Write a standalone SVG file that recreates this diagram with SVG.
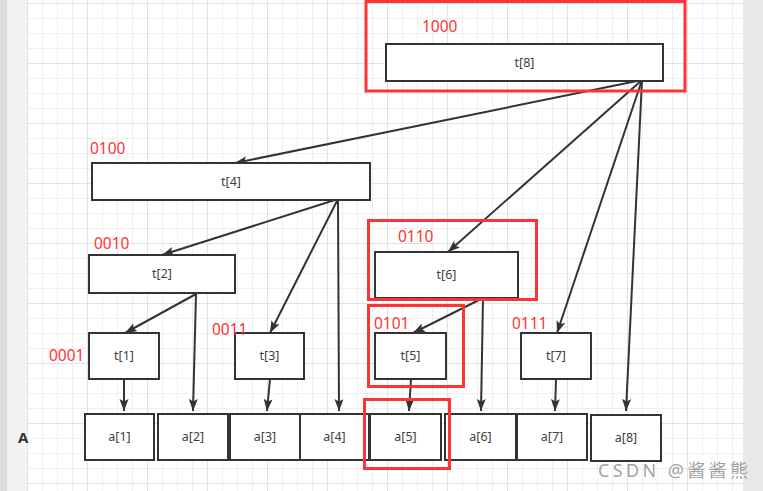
<svg xmlns="http://www.w3.org/2000/svg" width="763" height="491" viewBox="0 0 763 491">
<style>
.box{fill:#fff;stroke:#333;stroke-width:2}
.lbl{font-family:"Noto Sans","Liberation Sans",sans-serif;font-size:12.5px;fill:#404040;text-anchor:middle}
.bin{font-family:"Noto Sans","Liberation Sans",sans-serif;font-size:15.5px;fill:#ff3333}
.hl{fill:none;stroke:#f33;stroke-width:3}
.edge{stroke:#333;stroke-width:2;fill:none;marker-end:url(#ah)}
.wm{font-family:"Noto Sans","Noto Sans CJK SC",sans-serif;font-size:18px;fill:#8a8a8a;fill-opacity:0.8}
</style>
<defs>
<pattern id="minor" patternUnits="userSpaceOnUse" x="27" y="3" width="15" height="15">
<path d="M0,0.5 H15 M0.5,0 V15" stroke="#efefef" stroke-width="1" fill="none"/>
</pattern>
<pattern id="major" patternUnits="userSpaceOnUse" x="27" y="3" width="60" height="60">
<path d="M0,0.5 H60 M0.5,0 V60" stroke="#e2e2e2" stroke-width="1" fill="none"/>
</pattern>
<marker id="ah" markerUnits="userSpaceOnUse" markerWidth="13" markerHeight="10" refX="12" refY="4.5" orient="auto">
<path d="M0,0 L12,4.5 L0,9 L2.5,4.5 z" fill="#333"/>
</marker>
</defs>
<rect x="0" y="0" width="763" height="491" fill="#fff"/>
<rect x="0" y="0" width="7" height="491" fill="#dcdce0"/>
<rect x="7" y="0" width="20" height="491" fill="#f2f2f2"/>
<rect x="27" y="0" width="716" height="491" fill="url(#minor)"/>
<rect x="27" y="0" width="716" height="491" fill="url(#major)"/>
<rect x="743" y="0" width="20" height="491" fill="#e8e8e8"/>

<g id="connectors">
<line class="edge" x1="642" y1="80" x2="235" y2="163"/>
<line class="edge" x1="642" y1="80" x2="448" y2="252"/>
<line class="edge" x1="642" y1="80" x2="557" y2="333"/>
<line class="edge" x1="642" y1="80" x2="626" y2="411"/>
<line class="edge" x1="338" y1="199" x2="162" y2="255"/>
<line class="edge" x1="338" y1="199" x2="270" y2="333"/>
<line class="edge" x1="338" y1="199" x2="339" y2="411"/>
<line class="edge" x1="196" y1="294" x2="125" y2="333"/>
<line class="edge" x1="196" y1="294" x2="193" y2="411"/>
<line class="edge" x1="124" y1="379" x2="124" y2="411"/>
<line class="edge" x1="270" y1="379" x2="267" y2="411"/>
<line class="edge" x1="483" y1="298" x2="413" y2="333"/>
<line class="edge" x1="483" y1="298" x2="481" y2="411"/>
<line class="edge" x1="411" y1="379" x2="409" y2="411"/>
<line class="edge" x1="556" y1="379" x2="555" y2="411"/>
</g>

<g id="t8"><rect class="box" x="386" y="44" width="277" height="37"/><text class="lbl" x="524.5" y="67">t[8]</text></g>
<g id="t4"><rect class="box" x="92" y="163" width="278" height="37"/><text class="lbl" x="231" y="186">t[4]</text></g>
<g id="t2"><rect class="box" x="89" y="255" width="146" height="38"/><text class="lbl" x="162" y="278">t[2]</text></g>
<g id="t6"><rect class="box" x="375" y="252" width="143" height="46"/><text class="lbl" x="446.5" y="279">t[6]</text></g>
<g id="t1"><rect class="box" x="89" y="333" width="70" height="46"/><text class="lbl" x="124" y="360">t[1]</text></g>
<g id="t3"><rect class="box" x="235" y="333" width="69" height="46"/><text class="lbl" x="269.5" y="360">t[3]</text></g>
<g id="t5"><rect class="box" x="375" y="333" width="71" height="46"/><text class="lbl" x="410.5" y="360">t[5]</text></g>
<g id="t7"><rect class="box" x="521" y="333" width="70" height="46"/><text class="lbl" x="556" y="360">t[7]</text></g>

<g id="a1"><rect class="box" x="85" y="414" width="69" height="46"/><text class="lbl" x="119.5" y="441">a[1]</text></g>
<g id="a2"><rect class="box" x="158" y="414" width="70" height="46"/><text class="lbl" x="193" y="441">a[2]</text></g>
<g id="a3"><rect class="box" x="230" y="414" width="70" height="46"/><text class="lbl" x="265" y="441">a[3]</text></g>
<g id="a4"><rect class="box" x="300" y="414" width="69" height="46"/><text class="lbl" x="334.5" y="441">a[4]</text></g>
<g id="a5"><rect class="box" x="370" y="414" width="71" height="46"/><text class="lbl" x="405.5" y="441">a[5]</text></g>
<g id="a6"><rect class="box" x="445" y="414" width="71" height="46"/><text class="lbl" x="480.5" y="441">a[6]</text></g>
<g id="a7"><rect class="box" x="517" y="414" width="70" height="46"/><text class="lbl" x="552" y="441">a[7]</text></g>
<g id="a8"><rect class="box" x="591" y="415" width="70" height="46"/><text class="lbl" x="626" y="442">a[8]</text></g>

<g id="labels">
<text class="bin" x="422" y="32">1000</text>
<text class="bin" x="90" y="154">0100</text>
<text class="bin" x="94" y="249">0010</text>
<text class="bin" x="398" y="242">0110</text>
<text class="bin" x="49" y="361">0001</text>
<text class="bin" x="212" y="335">0011</text>
<text class="bin" x="374" y="329">0101</text>
<text class="bin" x="512" y="329">0111</text>
<text x="18" y="443" font-family="Noto Sans, Liberation Sans, sans-serif" font-size="15" font-weight="bold" fill="#333">A</text>
</g>

<g id="highlights">
<rect class="hl" x="366" y="1.5" width="319" height="89.5"/>
<rect class="hl" x="368.5" y="220.5" width="168" height="79"/>
<rect class="hl" x="368.5" y="305.5" width="95" height="81"/>
<rect class="hl" x="364.5" y="399.5" width="85" height="69"/>
</g>

<g id="watermark">
<text class="wm" x="598" y="477" textLength="150" lengthAdjust="spacing">CSDN @酱酱熊</text>
</g>
</svg>
